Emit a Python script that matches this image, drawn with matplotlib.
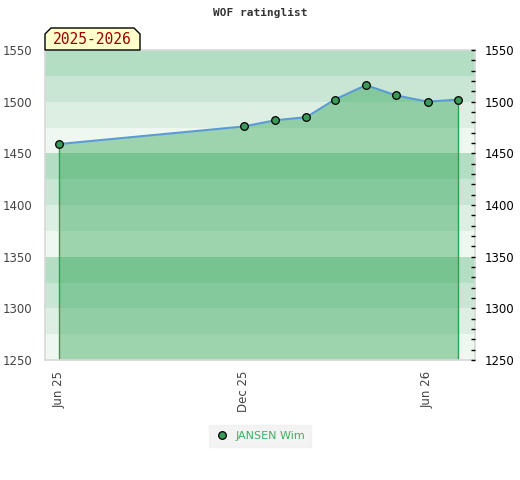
import matplotlib
matplotlib.use("Agg")
import matplotlib.pyplot as plt
import matplotlib.dates as mdates
from matplotlib.patches import Polygon
from matplotlib.ticker import MultipleLocator
import datetime as dt

# ---- data ----
months = ["2025-06-01", "2025-12-01", "2026-01-01", "2026-02-01", "2026-03-01",
          "2026-04-01", "2026-05-01", "2026-06-01", "2026-07-01"]
ratings = [1459, 1476, 1482, 1485, 1502, 1516, 1506, 1500, 1502]
player = "JANSEN Wim"
season = "2025-2026"
title = "WOF ratinglist"
y_min, y_max = 1250, 1550
x_start, x_end = "2025-05-18", "2026-07-18"
tick_dates = ["2025-06-01", "2025-12-01", "2026-06-01"]
band_colors = {50: "#eef7f0", 75: "#ddefe3", 0: "#c8e6d3", 25: "#b3dec4"}

dates = [dt.datetime.strptime(d, "%Y-%m-%d") for d in months]
W, H = 520, 480
fig = plt.figure(figsize=(W / 100, H / 100), dpi=100)
ax = fig.add_axes([45 / W, 1 - 360 / H, 430 / W, 310 / H])

# background bands
for lo in range(y_min, y_max, 25):
    ax.axhspan(lo, lo + 25, color=band_colors[lo % 100], lw=0, zorder=0)

ax.fill_between(dates, ratings, y_min, color="#0e9639", alpha=0.36, lw=0, zorder=1)
ax.vlines([dates[0], dates[-1]], y_min, [ratings[0], ratings[-1]],
          color="#2ea050", lw=1, zorder=2)
ax.plot(dates, ratings, color="#5b9bd5", lw=1.5, zorder=3)
ax.plot(dates, ratings, ls="none", marker="o", ms=5.5, mfc="#3a9a5a", mec="black",
        mew=0.9, zorder=4, label=player)

ax.set_xlim(dt.datetime.strptime(x_start, "%Y-%m-%d"), dt.datetime.strptime(x_end, "%Y-%m-%d"))
ax.set_ylim(y_min, y_max)
ax.set_xticks([dt.datetime.strptime(d, "%Y-%m-%d") for d in tick_dates])
ax.xaxis.set_major_formatter(mdates.DateFormatter("%b %y"))
ax.tick_params(axis="x", length=0, labelrotation=90, labelsize=8.5, labelcolor="#444444", pad=8)
ax.yaxis.set_major_locator(MultipleLocator(50))
ax.tick_params(axis="y", length=0, labelsize=8.5, labelcolor="#444444", pad=9)
for s in ax.spines.values():
    s.set_color("#d8d8d8")
    s.set_linewidth(1.2)

ax2 = ax.twinx()
ax2.set_ylim(y_min, y_max)
ax2.yaxis.set_major_locator(MultipleLocator(50))
ax2.yaxis.set_minor_locator(MultipleLocator(10))
ax2.tick_params(axis="y", which="both", direction="in", length=3, width=1,
                color="black", labelsize=8.5, labelcolor="black", pad=7)
for s in ax2.spines.values():
    s.set_visible(False)

fig.text(260 / W, 1 - 13 / H, title, ha="center", va="center",
         family="DejaVu Sans Mono", fontweight="bold", fontsize=8, color="#333333")

# season label box with chamfered top corners
x0, x1, y0, y1, c = 45, 140, 28, 50, 6
pts = [(x0, y1), (x0, y0 + c), (x0 + c, y0), (x1 - c, y0), (x1, y0 + c), (x1, y1)]
poly = Polygon([(px / W, 1 - py / H) for px, py in pts], closed=True,
               transform=fig.transFigure, facecolor="#ffffcc", edgecolor="black", lw=1, zorder=5)
fig.patches.append(poly)
fig.text((x0 + x1) / 2 / W, 1 - 40 / H, season, ha="center", va="center",
         family="DejaVu Sans Mono", fontsize=10.5, color="#990000", zorder=10)

leg = fig.legend(loc="center", bbox_to_anchor=(260 / W, 1 - 436 / H), frameon=True,
                 fancybox=False, facecolor="#f0f0f0", edgecolor="#f0f0f0",
                 fontsize=8, handletextpad=0.5, handlelength=1.4, borderpad=0.5)
for t in leg.get_texts():
    t.set_color("#3cb060")

fig.savefig("out.png", dpi=100)
